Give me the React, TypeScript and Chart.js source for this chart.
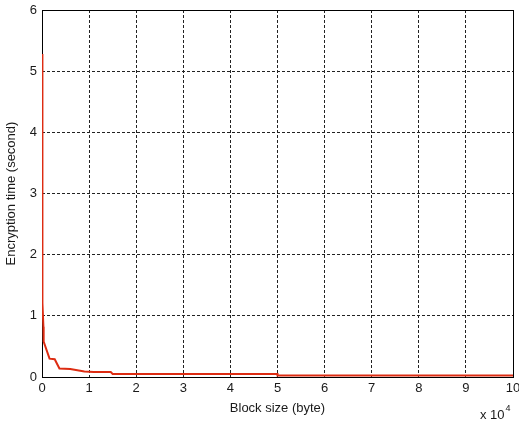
import React, { useEffect, useRef } from "react";
import { Chart, registerables } from "chart.js";

Chart.register(...registerables);

// Block size in bytes and measured encryption time in seconds
const blockSizes = [0, 60, 120, 300, 350, 1600, 2700, 3700, 6000, 9000, 11000, 14600, 15000, 50000, 50000, 100000];
const encryptionTimes = [5.28, 2.75, 1.21, 0.82, 0.58, 0.3, 0.29, 0.14, 0.13, 0.09, 0.08, 0.08, 0.05, 0.05, 0.025, 0.025];

const xTicks = [0, 1, 2, 3, 4, 5, 6, 7, 8, 9, 10];
const yTicks = [0, 1, 2, 3, 4, 5, 6];
const xScaleFactor = 10000;

const FONT = "'Liberation Sans', Arial, sans-serif";
const TEXT = "#1a1a1a";

// Closed box around the plot area, drawn beneath the curve
const boxPlugin = {
  id: "box",
  beforeDatasetsDraw(chart: any) {
    const { ctx, chartArea } = chart;
    ctx.save();
    ctx.strokeStyle = "#000";
    ctx.lineWidth = 1;
    ctx.strokeRect(
      Math.round(chartArea.left) + 0.5,
      Math.round(chartArea.top) + 0.5,
      Math.round(chartArea.right - chartArea.left),
      Math.round(chartArea.bottom - chartArea.top)
    );
    ctx.restore();
  },
};

// Exponent note for the x axis: "x 10^4"
const exponentPlugin = {
  id: "exponent",
  afterDraw(chart: any) {
    const { ctx, chartArea } = chart;
    ctx.save();
    ctx.fillStyle = TEXT;
    ctx.textAlign = "left";
    ctx.textBaseline = "alphabetic";
    ctx.font = `13px ${FONT}`;
    const x0 = chartArea.right - 33;
    ctx.fillText("x 10", x0, 419);
    const w = ctx.measureText("x 10").width;
    ctx.font = `9px ${FONT}`;
    ctx.fillText("4", x0 + w + 1, 411);
    ctx.restore();
  },
};

export default function App() {
  const canvasRef = useRef<HTMLCanvasElement | null>(null);

  useEffect(() => {
    if (!canvasRef.current) return;
    const points = blockSizes.map((x, i) => ({ x, y: encryptionTimes[i] }));
    const gridColor = (ctx: any) => {
      const v = ctx.tick ? ctx.tick.value : null;
      const scale = ctx.scale;
      if (v === scale.min || v === scale.max) return "rgba(0,0,0,0)";
      return "#222";
    };
    const chart = new Chart(canvasRef.current, {
      type: "line",
      data: {
        datasets: [
          {
            data: points,
            borderColor: "#dd2c12",
            borderWidth: 2,
            pointRadius: 0,
            tension: 0,
            fill: false,
          },
        ],
      },
      options: {
        animation: false,
        responsive: false,
        maintainAspectRatio: false,
        layout: { padding: { left: 0, right: 6, top: 10, bottom: 0 } },
        plugins: { legend: { display: false }, tooltip: { enabled: false } },
        scales: {
          x: {
            type: "linear",
            min: 0,
            max: 100000,
            afterBuildTicks(scale: any) {
              scale.ticks = xTicks.map((t) => ({ value: t * xScaleFactor }));
            },
            afterFit(scale: any) {
              scale.height = 48;
              scale.paddingLeft = 0;
              scale.paddingRight = 0;
            },
            ticks: {
              autoSkip: false,
              maxRotation: 0,
              padding: 4,
              color: TEXT,
              font: { family: FONT, size: 13 },
              callback: (v: any) => String(Number(v) / xScaleFactor),
            },
            grid: {
              color: gridColor,
              lineWidth: 1,
              drawTicks: false,
            },
            border: { display: false, dash: [3, 2] },
            title: {
              display: true,
              text: "Block size (byte)",
              color: TEXT,
              font: { family: FONT, size: 13 },
              padding: { top: 0, bottom: 9 },
            },
          },
          y: {
            type: "linear",
            min: 0,
            max: 6,
            afterBuildTicks(scale: any) {
              scale.ticks = yTicks.map((t) => ({ value: t }));
            },
            afterFit(scale: any) {
              scale.width = 42;
              scale.paddingTop = 0;
              scale.paddingBottom = 0;
            },
            ticks: {
              autoSkip: false,
              padding: 5,
              color: TEXT,
              font: { family: FONT, size: 13 },
            },
            grid: {
              color: gridColor,
              lineWidth: 1,
              drawTicks: false,
            },
            border: { display: false, dash: [3, 2] },
            title: {
              display: true,
              text: "Encryption time (second)",
              color: TEXT,
              font: { family: FONT, size: 13 },
              padding: { top: 4, bottom: 0 },
            },
          },
        },
      },
      plugins: [boxPlugin, exponentPlugin],
    });
    return () => chart.destroy();
  }, []);

  return (
    <div style={{ position: "fixed", left: 0, top: 0, width: 519, height: 425, background: "#fff" }}>
      <canvas ref={canvasRef} width={519} height={425} style={{ display: "block" }} />
    </div>
  );
}
